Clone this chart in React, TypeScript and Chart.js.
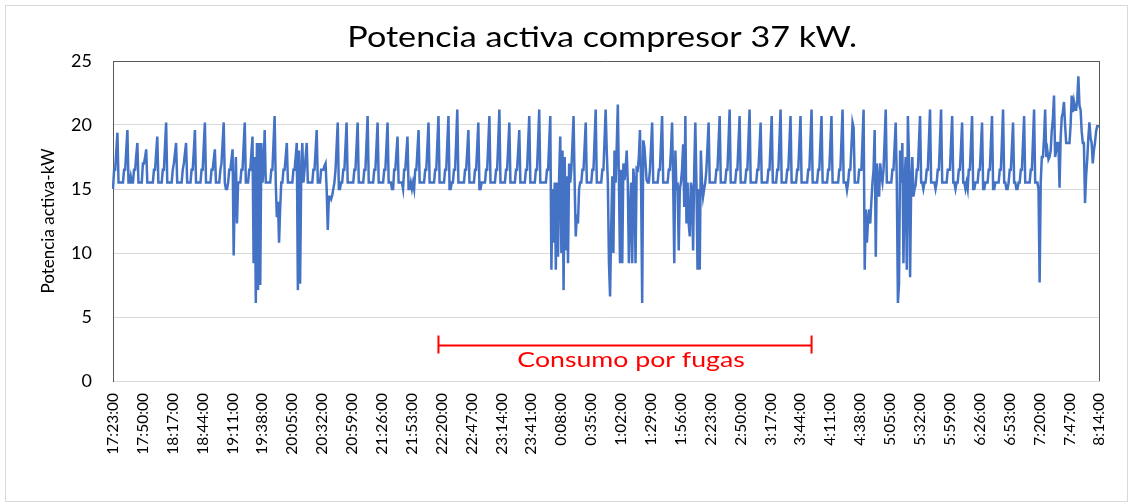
import { useEffect, useRef } from 'react';
import { Chart, registerables } from 'chart.js';

Chart.register(...registerables);

// Tick labels (one every 27 minutes)
const tickLabels = [
  '17:23:00', '17:50:00', '18:17:00', '18:44:00', '19:11:00', '19:38:00', '20:05:00', '20:32:00',
  '20:59:00', '21:26:00', '21:53:00', '22:20:00', '22:47:00', '23:14:00', '23:41:00', '0:08:00',
  '0:35:00', '1:02:00', '1:29:00', '1:56:00', '2:23:00', '2:50:00', '3:17:00', '3:44:00',
  '4:11:00', '4:38:00', '5:05:00', '5:32:00', '5:59:00', '6:26:00', '6:53:00', '7:20:00',
  '7:47:00', '8:14:00',
];
const MINUTES_PER_LABEL = 27;

// Active power (kW), one value per minute, 17:23 -> 21:53
const powerEvening = [
  15.0,16.5,16.5,18.0,19.4,15.5,15.5,15.5,15.5,15.5,16.5,16.5,18.1,19.6,15.5,15.5,16.0,15.5,15.5,16.5,16.5,17.6,18.6,15.5,15.5,15.5,15.5,
  17.0,17.0,17.5,18.1,15.5,15.5,15.5,15.5,15.5,15.5,16.5,16.5,17.8,19.1,15.5,15.5,15.5,15.5,16.5,16.5,18.4,20.2,15.5,15.5,15.5,15.5,15.5,
  16.5,17.0,17.8,18.6,15.5,15.5,15.5,15.5,15.5,16.5,17.0,17.8,18.6,15.5,15.5,15.5,15.5,16.5,16.5,18.0,19.6,15.5,15.5,15.5,15.5,15.5,16.5,
  16.5,18.4,20.2,15.5,15.5,15.5,15.5,15.5,16.5,16.5,17.3,18.1,15.5,15.5,15.5,15.5,16.5,17.0,18.6,20.2,15.5,15.0,15.0,15.5,16.5,16.5,17.3,
  18.1,9.8,15.0,17.5,12.3,15.5,15.5,15.5,16.5,16.5,18.4,20.2,15.5,15.5,15.5,16.5,16.5,17.8,19.1,9.2,17.5,6.1,18.6,7.1,18.6,7.5,18.6,
  15.5,16.5,19.6,15.5,15.5,15.5,15.5,15.5,16.5,16.5,18.6,20.7,15.5,12.8,14.0,10.8,13.5,15.5,15.5,16.5,16.5,17.5,18.6,15.5,15.5,15.5,15.5,
  15.5,16.5,16.5,17.5,18.6,7.1,18.0,7.6,16.0,18.6,15.5,16.5,17.5,18.6,15.5,15.5,15.5,15.5,15.5,16.5,16.5,18.0,19.6,15.5,15.5,15.5,16.5,
  16.5,16.5,16.8,17.0,15.0,11.8,14.4,14.4,14.2,14.5,15.0,15.5,16.5,18.3,20.2,15.0,15.0,15.5,15.5,16.5,16.5,18.3,20.2,15.5,15.5,15.5,15.5,
  15.5,15.5,16.5,16.5,18.3,20.2,15.5,15.5,15.5,15.5,15.5,16.5,16.5,18.6,20.7,15.5,15.5,15.5,15.5,15.5,16.5,16.5,18.3,20.2,15.5,15.5,15.5,
  15.5,15.5,16.5,16.5,18.3,20.2,15.5,15.5,15.5,15.0,15.0,16.5,16.5,17.8,19.1,15.5,15.5,15.5,15.5,15.0,16.5,16.5,17.8,19.1,15.0,15.0,15.5,
  15.0,15.5,15.0,16.5,16.5,18.0,19.6,15.5,15.5,15.5,15.5,15.5,16.5,16.5,18.3,20.2,15.5,15.5,15.5,15.5,15.5,16.5,16.5,18.6,20.7,15.5,15.5,
];

// 22:20 -> 2:50
const powerNight = [
  15.5,15.5,15.5,16.5,16.5,18.6,20.7,15.0,15.0,15.5,15.5,16.5,16.5,18.8,21.2,15.5,15.5,15.5,15.5,15.5,15.5,16.5,16.5,18.0,19.6,15.5,15.5,
  15.5,15.5,15.5,16.5,16.5,18.3,20.2,15.0,15.0,15.5,15.5,15.5,15.5,16.5,16.5,18.6,20.7,15.5,15.5,15.5,15.5,15.5,16.5,16.5,18.8,21.2,15.5,
  15.5,15.5,15.5,15.5,16.5,16.5,18.3,20.2,15.5,15.5,15.5,15.5,15.5,16.5,16.5,18.0,19.6,15.5,15.5,15.5,15.5,15.5,16.5,16.5,18.6,20.7,15.5,
  15.5,15.5,15.5,15.5,16.5,16.5,18.8,21.2,15.5,15.5,15.5,15.5,15.5,15.5,16.5,16.5,18.6,20.7,8.7,15.0,10.8,15.5,8.7,15.5,9.7,16.0,19.1,
  10.0,18.0,7.1,17.5,10.2,16.0,9.2,17.0,15.5,16.5,18.5,20.7,15.5,11.3,13.0,12.3,15.0,15.5,15.5,16.5,16.5,18.3,20.2,15.5,15.5,15.5,15.5,
  15.5,16.5,16.5,18.8,21.2,15.5,15.5,15.5,15.5,15.5,16.5,16.5,18.8,21.2,18.0,15.5,9.2,6.6,12.0,16.0,10.0,18.0,15.5,18.3,21.6,15.5,9.2,
  16.5,9.2,17.0,15.7,16.5,18.0,15.5,9.2,13.1,15.5,9.2,16.6,15.5,9.2,16.6,16.5,17.5,19.6,15.5,6.1,18.8,18.3,17.0,15.7,15.5,15.5,16.5,
  18.3,20.2,15.5,15.5,15.5,15.5,15.5,16.5,16.5,18.6,20.7,15.5,15.5,15.5,15.5,15.5,16.5,16.5,18.0,20.2,15.5,9.2,18.0,14.9,15.5,10.2,15.0,
  15.5,16.5,18.5,13.6,20.7,12.3,15.5,12.3,11.3,15.5,15.0,10.2,16.5,20.2,15.5,8.7,15.0,8.7,18.0,15.5,14.4,15.0,15.5,16.5,18.3,20.2,15.5,
  15.5,15.5,15.5,15.5,15.5,16.5,16.5,18.6,20.7,15.5,15.5,15.5,15.5,15.5,16.5,16.5,18.8,21.2,15.5,15.5,15.5,15.5,15.5,16.5,16.5,18.6,20.7,
  15.5,15.5,15.5,15.5,15.5,16.5,16.5,18.8,21.2,15.5,15.5,15.5,15.5,15.5,15.5,16.5,16.5,18.3,20.2,15.5,15.5,15.5,15.5,15.5,15.5,16.5,16.5,
];

// 3:17 -> 8:14
const powerMorning = [
  18.6,20.7,15.5,15.5,15.5,15.5,16.5,16.5,18.8,21.2,15.5,15.5,15.5,15.5,15.5,16.5,16.5,18.6,20.7,15.5,15.5,15.5,15.5,15.5,16.5,16.5,18.6,
  20.7,15.5,15.5,15.5,15.5,15.5,15.5,16.5,16.5,18.8,21.2,15.5,15.5,15.5,15.5,15.5,16.5,16.5,18.6,20.7,15.5,15.5,15.5,15.5,15.5,16.5,16.5,
  18.6,20.7,15.5,15.5,15.5,15.5,15.5,15.5,16.5,16.5,18.8,21.2,15.5,15.5,15.5,14.9,15.5,16.5,16.5,18.3,20.2,19.8,15.5,15.5,15.5,15.5,16.5,
  16.5,16.5,18.8,21.2,8.7,13.4,10.8,12.5,13.4,12.3,14.0,15.5,16.5,19.6,9.7,17.0,15.5,14.4,17.0,16.0,15.5,16.5,18.8,21.2,15.5,15.5,15.5,
  15.5,15.5,16.5,16.5,18.3,20.2,15.5,6.1,7.6,18.0,15.5,18.6,9.2,15.5,17.5,8.7,20.7,17.5,8.1,15.5,17.5,14.4,15.0,15.3,16.5,16.5,18.6,
  20.7,15.5,15.5,15.0,15.5,15.5,16.5,16.5,18.8,21.2,15.5,15.5,15.5,15.5,15.0,15.5,16.5,16.5,18.8,21.2,15.5,15.5,15.5,15.5,15.5,16.5,16.5,
  16.5,18.6,20.7,15.5,15.5,15.0,15.5,15.5,16.5,16.5,18.3,20.2,15.5,15.5,15.0,15.5,15.0,16.5,16.5,18.6,20.7,15.0,15.0,15.5,15.5,15.5,16.5,
  16.5,18.3,20.2,15.0,15.0,15.5,15.5,15.5,16.5,16.5,18.6,20.7,15.0,15.0,15.5,15.5,15.5,15.5,16.5,16.5,18.8,21.2,15.5,15.5,15.0,15.0,15.5,
  16.5,16.5,18.3,20.2,15.5,15.5,15.0,15.0,15.5,15.5,16.5,16.5,18.6,20.7,15.5,15.5,15.5,15.5,15.5,16.5,16.5,18.8,21.2,15.5,15.5,15.5,15.0,
  7.7,15.5,17.5,17.5,19.0,21.2,17.5,18.0,17.3,17.5,18.0,19.6,20.5,22.3,17.5,18.0,18.6,18.6,15.1,19.0,20.6,21.0,21.8,20.0,18.6,18.6,18.6,
  18.6,20.0,22.3,21.0,21.8,21.2,21.2,22.0,23.8,21.5,21.2,19.5,18.6,18.6,13.9,16.0,17.3,19.0,20.2,19.0,18.6,17.0,18.0,18.6,19.5,19.9,19.9,
  19.9,
];

const power = [...powerEvening, ...powerNight, ...powerMorning];
const categories = power.map((_, i) =>
  i % MINUTES_PER_LABEL === 0 ? tickLabels[i / MINUTES_PER_LABEL] : ''
);

// Annotation: leak consumption period
const leakText = 'Consumo por fugas';
const leakStartIndex = 294; // ~22:17
const leakEndIndex = 631;   // ~3:54
const leakLineValue = 2.8;

const TITLE = 'Potencia activa compresor 37 kW.';
const Y_TITLE = 'Potencia activa-kW';
const FONT = 'Lato, "Open Sans", sans-serif';

// Text drawn slightly stretched horizontally, as in the reference picture
const drawStretched = (ctx: any, text: string, cx: number, baseline: number, font: string, sx: number, color: string) => {
  ctx.save();
  ctx.font = font;
  ctx.fillStyle = color;
  ctx.textAlign = 'center';
  ctx.textBaseline = 'alphabetic';
  ctx.translate(cx, baseline);
  ctx.scale(sx, 1);
  ctx.fillText(text, 0, 0);
  ctx.restore();
};

const framePlugin = {
  id: 'frame',
  beforeDraw(chart: any) {
    const { ctx, width, height } = chart;
    ctx.save();
    ctx.fillStyle = '#ffffff';
    ctx.fillRect(0, 0, width, height);
    ctx.strokeStyle = '#D9D9D9';
    ctx.lineWidth = 1;
    ctx.strokeRect(5.5, 5.5, width - 8, height - 8);
    ctx.restore();
  },
  afterDatasetsDraw(chart: any) {
    const { ctx, chartArea } = chart;
    ctx.save();
    ctx.strokeStyle = '#595959';
    ctx.lineWidth = 1;
    ctx.beginPath();
    ctx.moveTo(Math.round(chartArea.right) + 0.5, chartArea.top);
    ctx.lineTo(Math.round(chartArea.right) + 0.5, chartArea.bottom);
    ctx.stroke();
    ctx.restore();
  },
  afterDraw(chart: any) {
    const { ctx, chartArea } = chart;
    const cx = (chartArea.left + chartArea.right) / 2 - 4;
    drawStretched(ctx, TITLE, cx, chartArea.top - 14, `28px ${FONT}`, 1.22, '#000000');
  },
};

const leakPlugin = {
  id: 'leak',
  afterDatasetsDraw(chart: any) {
    const { ctx } = chart;
    const x = chart.scales.x;
    const y = chart.scales.y;
    const x1 = x.getPixelForValue(leakStartIndex);
    const x2 = x.getPixelForValue(leakEndIndex);
    const yl = Math.round(y.getPixelForValue(leakLineValue)) + 0.5;
    ctx.save();
    ctx.strokeStyle = '#FF0000';
    ctx.lineWidth = 2;
    ctx.beginPath();
    ctx.moveTo(x1, yl);
    ctx.lineTo(x2, yl);
    ctx.moveTo(x1, yl - 10);
    ctx.lineTo(x1, yl + 8);
    ctx.moveTo(x2, yl - 10);
    ctx.lineTo(x2, yl + 8);
    ctx.stroke();
    ctx.restore();
    drawStretched(ctx, leakText, (x1 + x2) / 2 + 6, yl + 21, `21px ${FONT}`, 1.27, '#FF0000');
  },
};

export default function App() {
  const canvasRef = useRef<HTMLCanvasElement | null>(null);

  useEffect(() => {
    let chart: Chart | null = null;
    let cancelled = false;
    const build = () => {
      if (cancelled || !canvasRef.current) return;
      chart = new Chart(canvasRef.current, {
        type: 'line',
        data: {
          labels: categories,
          datasets: [
            {
              data: power,
              borderColor: '#4472C4',
              borderWidth: 2.5,
              pointRadius: 0,
              tension: 0,
              fill: false,
            },
          ],
        },
        options: {
          animation: false,
          responsive: false,
          devicePixelRatio: 1,
          layout: { padding: { left: 0, right: 25, top: 61, bottom: 0 } },
          plugins: {
            legend: { display: false },
            tooltip: { enabled: false },
            title: { display: false },
          },
          scales: {
            x: {
              type: 'category',
              grid: { display: false, drawTicks: false },
              border: { display: true, color: '#D9D9D9', width: 1 },
              ticks: {
                autoSkip: false,
                minRotation: 90,
                maxRotation: 90,
                padding: 12,
                color: '#000000',
                font: { family: FONT, size: 15.5 },
              },
              afterFit: (scale: any) => {
                scale.height = 123;
              },
            },
            y: {
              min: 0,
              max: 25,
              grid: {
                drawTicks: false,
                color: (ctx: any) => (ctx.tick && ctx.tick.value === 25 ? '#595959' : '#D9D9D9'),
              },
              border: { display: true, color: '#595959', width: 1 },
              ticks: {
                stepSize: 5,
                padding: 21,
                color: '#000000',
                font: { family: FONT, size: 18 },
              },
              title: {
                display: true,
                text: Y_TITLE,
                color: '#000000',
                font: { family: FONT, size: 17 },
                padding: { top: 38, bottom: 0 },
              },
              afterFit: (scale: any) => {
                scale.width = 113;
              },
            },
          },
        },
        plugins: [framePlugin, leakPlugin],
      });
    };
    const fonts = (document as any).fonts;
    if (fonts && fonts.load) {
      Promise.all([fonts.load('16px Lato'), fonts.load('28px Lato')])
        .catch(() => undefined)
        .then(build);
    } else {
      build();
    }
    return () => {
      cancelled = true;
      if (chart) chart.destroy();
    };
  }, []);

  return (
    <div style={{ position: 'fixed', left: 0, top: 0, width: 1130, height: 504, background: '#fff' }}>
      <canvas ref={canvasRef} width={1130} height={504} />
    </div>
  );
}
